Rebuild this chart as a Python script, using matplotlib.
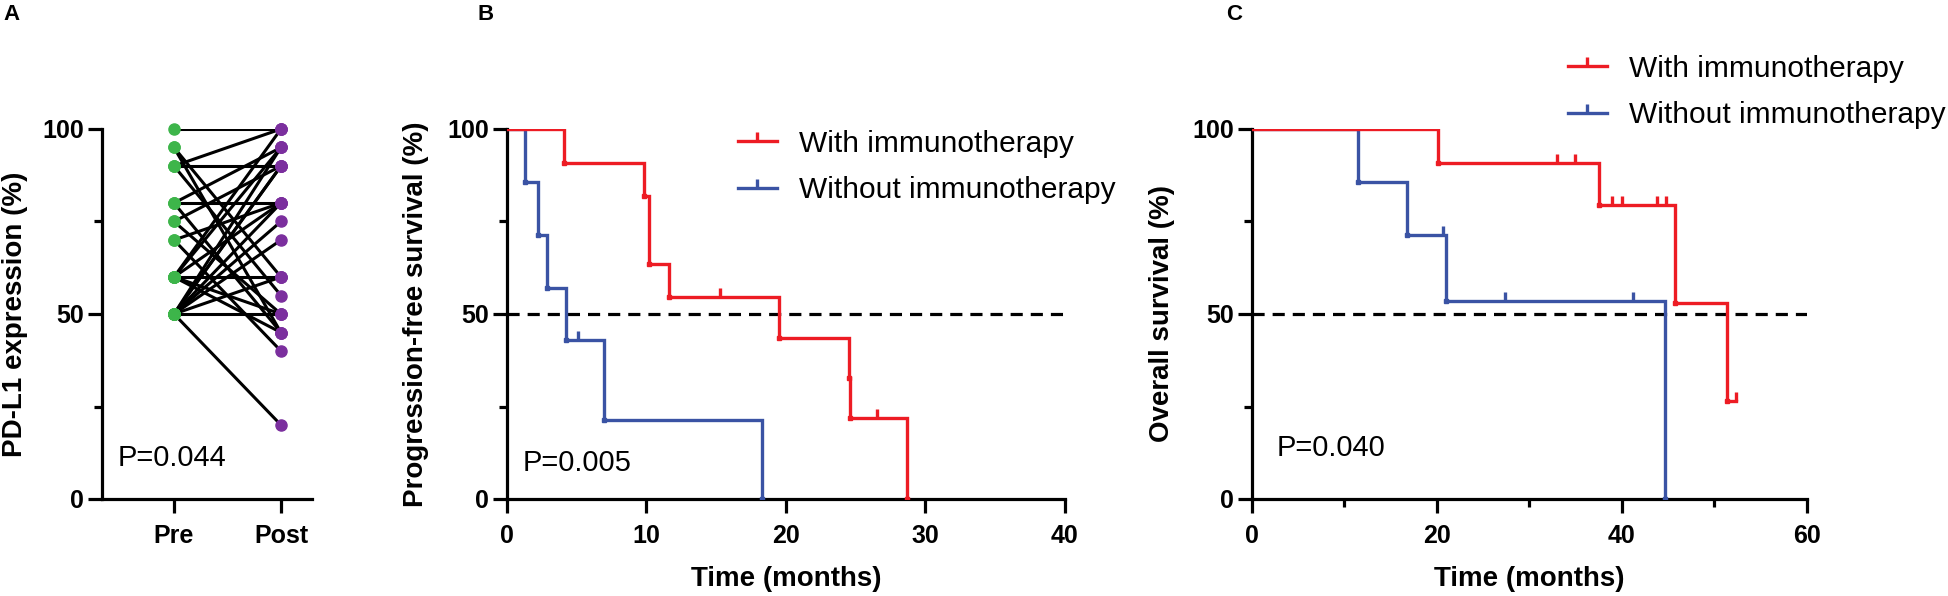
import matplotlib
matplotlib.use("Agg")
import matplotlib.pyplot as plt
from matplotlib.lines import Line2D
from matplotlib.ticker import MultipleLocator
import numpy as np

plt.rcParams['font.family'] = ['Liberation Sans', 'DejaVu Sans']

# ---------------- data ----------------
# Panel A: paired PD-L1 expression (%) pre / post
pdl1_pre = [100, 95, 95, 90, 90, 90, 80, 80, 80, 75, 75, 70, 70,
            60, 60, 60, 60, 60, 60, 50, 50, 50, 50, 50, 50, 50, 50, 50]
pdl1_post = [100, 60, 45, 100, 90, 55, 95, 80, 45, 90, 50, 80, 40,
             100, 95, 80, 60, 50, 45, 95, 90, 90, 80, 75, 70, 60, 50, 20]
group_labels = ["Pre", "Post"]
p_text = ["P=0.044", "P=0.005", "P=0.040"]

# Panel B: progression-free survival (months, %)
pfs_with_t = [0, 4.1, 9.8, 10.2, 11.6, 19.5, 24.5, 24.6, 28.7]
pfs_with_s = [100, 90.9, 81.8, 63.6, 54.5, 43.6, 32.7, 21.8, 0]
pfs_with_cens = [15.3, 26.5]
pfs_without_t = [0, 1.3, 2.2, 2.9, 4.2, 6.95, 18.3]
pfs_without_s = [100, 85.7, 71.4, 57.1, 42.9, 21.4, 0]
pfs_without_cens = [5.1]

# Panel C: overall survival (months, %)
os_with_t = [0, 20.1, 37.5, 45.7, 51.4]
os_with_s = [100, 90.9, 79.5, 53.0, 26.5]
os_with_cens = [33.0, 34.9, 38.9, 40.0, 43.8, 44.8, 52.3]
os_without_t = [0, 11.5, 16.8, 21.0, 44.7]
os_without_s = [100, 85.7, 71.4, 53.6, 0]
os_without_cens = [20.7, 27.4, 41.2]

series_names = ["With immunotherapy", "Without immunotherapy"]

# ---------------- style ----------------
RED = "#ED1C24"
BLUE = "#3A53A4"
GREEN = "#3DB54A"
PURPLE = "#7B2F9E"
W, H = 1949, 596
SPW = 2.3
TOP, BOT = 129, 499

fig = plt.figure(figsize=(W / 100, H / 100), dpi=100)


def px_axes(l, r, b, t):
    return fig.add_axes([l / W, 1 - b / H, (r - l) / W, (b - t) / H])


def style_axes(ax):
    for s in ["top", "right"]:
        ax.spines[s].set_visible(False)
    for s in ["left", "bottom"]:
        ax.spines[s].set_linewidth(SPW)
        ax.spines[s].set_capstyle("projecting")
    ax.tick_params(which="major", width=SPW, length=10, labelsize=18)
    ax.tick_params(which="minor", width=SPW, length=6)
    ax.tick_params(axis="y", pad=3)
    ax.tick_params(axis="x", pad=8)
    for lab in ax.get_xticklabels() + ax.get_yticklabels():
        lab.set_fontweight("bold")


def set_labels(ax, left, right, ylabel, ylab_right_px, xlabel=None):
    ax.set_ylabel(ylabel, fontsize=20, fontweight="bold")
    ax.yaxis.set_label_coords((ylab_right_px - left) / (right - left), 0.5)
    if xlabel:
        ax.set_xlabel(xlabel, fontsize=20, fontweight="bold", va="top")
        ax.xaxis.set_label_coords(0.5, (BOT - 566) / (BOT - TOP))


def km(ax, t, s, cens, color, z):
    t = list(t)
    s = list(s)
    end = max([t[-1]] + list(cens))
    xs = t + [end]
    ys = s + [s[-1]]
    ax.step(xs, ys, where="post", color=color, lw=2.4, zorder=z,
            solid_joinstyle="miter")
    ax.plot(t[1:], s[1:], ls="none", marker="s", ms=3.5, color=color,
            zorder=z)
    tt = np.array(t)
    for c in cens:
        idx = np.searchsorted(tt, c, side="right") - 1
        ax.plot([c], [s[idx]], ls="none", marker=2, ms=6.5, mew=2.4,
                color=color, zorder=z)


def setup_km(ax, xmax, xmajor, xminor):
    ax.set_xlim(0, xmax)
    ax.set_ylim(0, 100)
    ax.set_yticks([0, 50, 100])
    ax.yaxis.set_minor_locator(MultipleLocator(25))
    ax.xaxis.set_major_locator(MultipleLocator(xmajor))
    if xminor:
        ax.xaxis.set_minor_locator(MultipleLocator(xminor))
    ax.axhline(50, color="black", lw=2.3, ls=(0, (3.8, 2.5)), zorder=1)
    style_axes(ax)


# ---------------- Panel A ----------------
A_L, A_R = 102, 312
axA = px_axes(A_L, A_R, BOT, TOP)
xpos = [0, 1]
for a, b in zip(pdl1_pre, pdl1_post):
    axA.plot(xpos, [a, b], color="black", lw=2.2, zorder=2,
             solid_capstyle="round")
axA.plot([xpos[0]] * len(pdl1_pre), pdl1_pre, ls="none", marker="o",
         ms=8, color=GREEN, zorder=3, clip_on=False)
axA.plot([xpos[1]] * len(pdl1_post), pdl1_post, ls="none", marker="o",
         ms=8, color=PURPLE, zorder=3, clip_on=False)
axA.set_xlim(-0.673, 1.29)
axA.set_ylim(0, 100)
axA.set_yticks([0, 50, 100])
axA.yaxis.set_minor_locator(MultipleLocator(25))
axA.set_xticks(xpos)
axA.set_xticklabels(group_labels)
style_axes(axA)
set_labels(axA, A_L, A_R, "PD-L1 expression (%)", 28)
axA.text(-0.53, 11, p_text[0], fontsize=21, ha="left", va="center")

# ---------------- Panel B ----------------
B_L, B_R = 507, 1065
axB = px_axes(B_L, B_R, BOT, TOP)
km(axB, pfs_without_t, pfs_without_s, pfs_without_cens, BLUE, 3)
km(axB, pfs_with_t, pfs_with_s, pfs_with_cens, RED, 4)
setup_km(axB, 40, 10, None)
set_labels(axB, B_L, B_R, "Progression-free survival (%)", 429,
           "Time (months)")
axB.text(1.1, 9.6, p_text[1], fontsize=21, ha="left", va="center")

# ---------------- Panel C ----------------
C_L, C_R = 1252, 1807
axC = px_axes(C_L, C_R, BOT, TOP)
km(axC, os_without_t, os_without_s, os_without_cens, BLUE, 3)
km(axC, os_with_t, os_with_s, os_with_cens, RED, 4)
setup_km(axC, 60, 20, 10)
set_labels(axC, C_L, C_R, "Overall survival (%)", 1175, "Time (months)")
axC.text(2.7, 13.8, p_text[2], fontsize=21, ha="left", va="center")

# legends (anchored in pixel positions of the figure)
for ax, (lx, ly) in [(axB, (738, 142)), (axC, (1568, 67))]:
    handles = [Line2D([0], [0], color=RED, lw=2.4, marker=2, ms=6.5,
                      mew=2.4),
               Line2D([0], [0], color=BLUE, lw=2.4, marker=2, ms=6.5,
                      mew=2.4)]
    leg = fig.legend(handles, series_names, loc="center left",
                     bbox_to_anchor=(lx / W, 1 - (ly + 25) / H),
                     frameon=False, fontsize=21.5, handlelength=1.3,
                     handletextpad=0.75, labelspacing=0.62, borderpad=0,
                     borderaxespad=0, numpoints=1)

# panel letters
for x, lab in [(3, "A"), (478, "B"), (1226, "C")]:
    fig.text(x / W, 1 - 15 / H, lab, fontsize=16, fontweight="bold",
             ha="left", va="center")

fig.savefig("out.png", dpi=100)
